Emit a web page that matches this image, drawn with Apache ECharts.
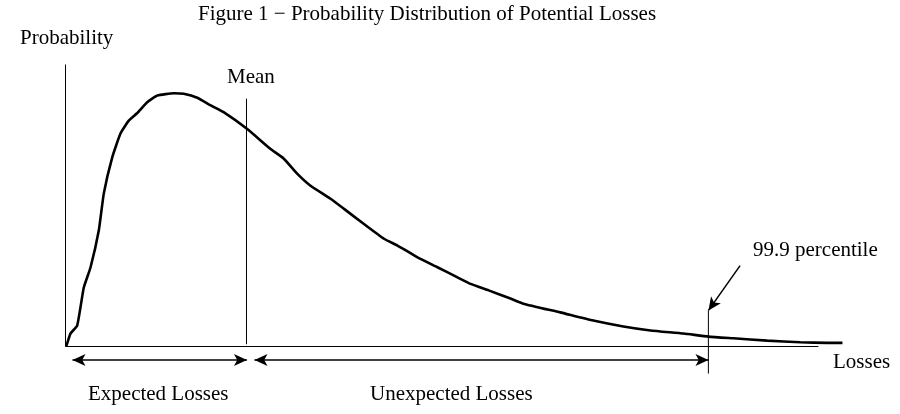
<!DOCTYPE html>
<html>
<head>
<meta charset="utf-8">
<script src="https://cdn.jsdelivr.net/npm/echarts@6/dist/echarts.min.js"></script>
<style>html,body{margin:0;padding:0;background:#fff;}#c{width:900px;height:414px;}</style>
</head>
<body>
<div id="c"></div>
<script>
// Loss values (x) and probability density (y)
var lossX = [0.1,0.66,1.55,2.43,3.32,4.42,5.09,6.2,7.3,8.4,9.5,10.85,12.2,14.4,15.7,17.5,19.3,21.0,24.1,27.2,29.0,30.8,32.5,35.2,37.0,39.6,42.3,44.1,46.7,49.4,52.0,53.8,56.2,59.1,60.8,65.7,70.1,74.1,77.7,82.1,85.4,88.7,93.2,97.6,101.2,103.2];
var probY = [0,4.6,7.4,20.9,28.0,41.1,54.3,67.0,75.5,80.1,82.7,86.6,89.0,89.8,89.6,88.2,85.5,83.1,77.2,70.1,66.6,61.2,57.1,52.4,48.8,43.5,38.2,35.8,31.7,28.1,24.6,22.2,19.9,17.0,15.2,12.1,9.2,7.1,5.7,4.6,3.5,2.9,2.1,1.5,1.3,1.3];
var meanX = 24.04;
var meanTop = 87.9;
var meanBottom = 0.8;
var p999X = 85.39;
var p999Top = 12.8;
var p999Bottom = -9.6;
var axisXMax = 100;
var axisYMax = 100;
var arrowY = -4.8;
var expectedRange = [0.93, 24.1];
var unexpectedRange = [25.1, 85.4];
var pointerFrom = [89.6, 28.7];
var pointerTo = [85.4, 12.8];
var labels = {
  title: "Figure 1 \u2212 Probability Distribution of Potential Losses",
  yName: "Probability",
  xName: "Losses",
  mean: "Mean",
  pct: "99.9 percentile",
  expected: "Expected Losses",
  unexpected: "Unexpected Losses"
};

var curve = lossX.map(function (x, i) { return [x, probY[i]]; });
var font = '"Liberation Serif", "Times New Roman", serif';
var FS = 21;

function seg(a, b, w) {
  return {
    type: 'line', data: [a, b], symbol: 'none', silent: true,
    lineStyle: { color: '#000', width: w || 1 }, animation: false
  };
}

var chart = echarts.init(document.getElementById('c'), null, { renderer: 'canvas' });
var arrowLine = function (from, to, both) {
  return {
    type: 'line', data: [], silent: true, animation: false,
    markLine: {
      silent: true, animation: false,
      symbol: both ? ['arrow', 'arrow'] : ['none', 'arrow'],
      symbolSize: [9, 13],
      label: { show: false },
      lineStyle: { color: '#000', width: 1.5, type: 'solid' },
      data: [[{ coord: from }, { coord: to }]]
    }
  };
};

chart.setOption({
  backgroundColor: '#fff',
  animation: false,
  grid: { left: 65.5, right: 51.5, top: 64.5, bottom: 414 - 64.5 - 338.4 },
  xAxis: { type: 'value', min: 0, max: 104, show: false },
  yAxis: { type: 'value', min: -20, max: 100, show: false },
  series: [
    seg([0, 0], [0, axisYMax], 1),
    seg([0, 0], [axisXMax, 0], 1),
    seg([meanX, meanBottom], [meanX, meanTop], 1),
    seg([p999X, p999Top], [p999X, p999Bottom], 1),
    {
      type: 'line', data: curve, symbol: 'none', smooth: 0.15, silent: true,
      lineStyle: { color: '#000', width: 2.6 }, animation: false
    },
    arrowLine([expectedRange[0], arrowY], [expectedRange[1], arrowY], true),
    arrowLine([unexpectedRange[0], arrowY], [unexpectedRange[1], arrowY], true),
    arrowLine(pointerFrom, pointerTo, false)
  ],
  graphic: [
    { type: 'text', left: 198, top: 4, style: { text: labels.title, font: FS + 'px ' + font, fill: '#000' } },
    { type: 'text', left: 20, top: 28, style: { text: labels.yName, font: FS + 'px ' + font, fill: '#000' } },
    { type: 'text', left: 227, top: 67, style: { text: labels.mean, font: FS + 'px ' + font, fill: '#000' } },
    { type: 'text', left: 753, top: 240, style: { text: labels.pct, font: FS + 'px ' + font, fill: '#000' } },
    { type: 'text', left: 833, top: 352, style: { text: labels.xName, font: FS + 'px ' + font, fill: '#000' } },
    { type: 'text', left: 88, top: 384, style: { text: labels.expected, font: FS + 'px ' + font, fill: '#000' } },
    { type: 'text', left: 370, top: 384, style: { text: labels.unexpected, font: FS + 'px ' + font, fill: '#000' } }
  ]
});
</script>
</body>
</html>
